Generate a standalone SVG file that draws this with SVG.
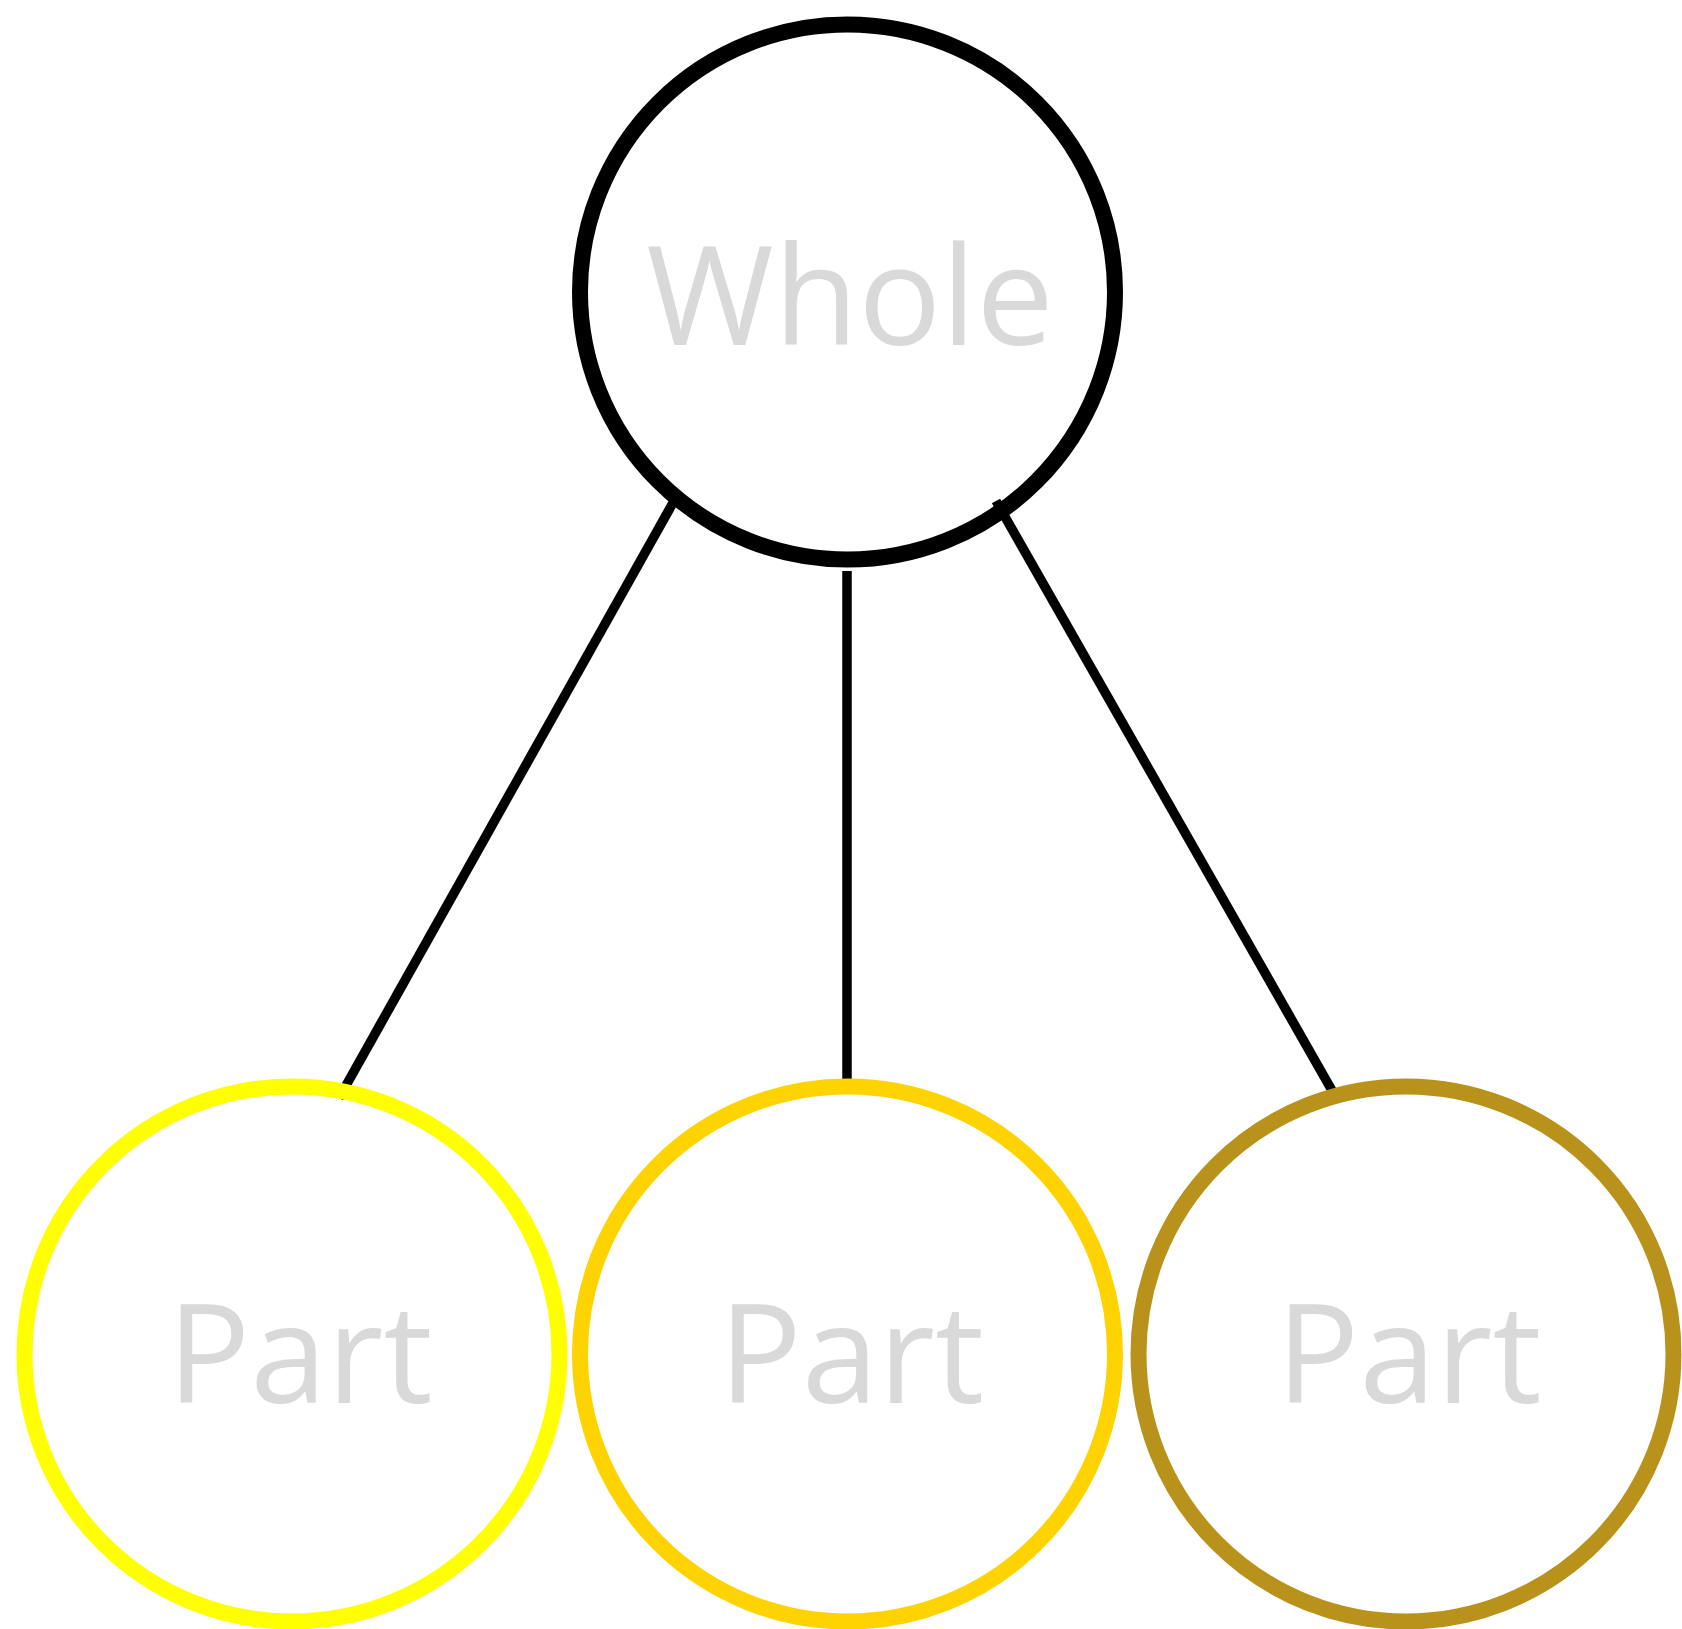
<svg xmlns="http://www.w3.org/2000/svg" width="1682" height="1629" viewBox="0 0 1682 1629">
<style>
.node{fill:none;stroke-width:16}
.lbl{font-family:"Open Sans","Noto Sans",sans-serif;font-size:138px;fill:#d9d9d9;text-anchor:middle}
.edge{stroke:#000000;stroke-width:9.5;fill:none;stroke-linecap:butt}
</style>
<rect width="1682" height="1629" fill="#ffffff"/>
<g id="connectors">
<line class="edge" x1="678.5" y1="493" x2="339" y2="1098"/>
<line class="edge" x1="847" y1="571" x2="847" y2="1084"/>
<line class="edge" x1="996" y1="501" x2="1338" y2="1101"/>
</g>
<g id="whole">
<circle class="node" cx="847.5" cy="292" r="267.5" stroke="#000000"/>
<text class="lbl" x="850" y="345">Whole</text>
</g>
<g id="part1">
<circle class="node" cx="292" cy="1354" r="267.5" stroke="#ffff00"/>
<text class="lbl" x="300" y="1403">Part</text>
</g>
<g id="part2">
<circle class="node" cx="847.5" cy="1354" r="267.5" stroke="#ffd300"/>
<text class="lbl" x="851.5" y="1403">Part</text>
</g>
<g id="part3">
<circle class="node" cx="1406" cy="1354" r="267.5" stroke="#b8921a"/>
<text class="lbl" x="1409" y="1403">Part</text>
</g>
</svg>
